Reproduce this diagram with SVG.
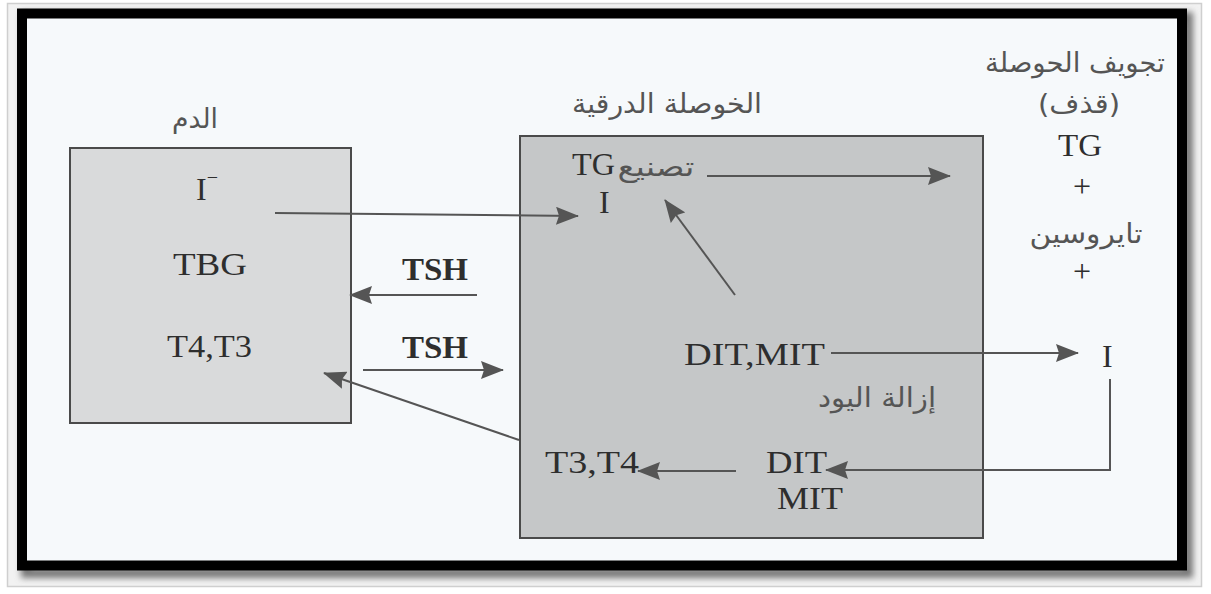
<svg xmlns="http://www.w3.org/2000/svg" width="1211" height="594" viewBox="0 0 1211 594">
  <style>
    .lat { font-family: "Liberation Serif", "Times New Roman", serif; fill: #2e2e2e; font-size: 32px; }
    .bold { font-weight: bold; }
    .ar { font-family: "DejaVu Sans", "Noto Sans", sans-serif; fill: #555; font-size: 27px; text-anchor: middle; direction: rtl; }
    .box { stroke: #4a4a4a; stroke-width: 2; }
    .conn { stroke: #555; stroke-width: 2; fill: none; }
  </style>
  <defs>
    <marker id="head" markerUnits="userSpaceOnUse" markerWidth="24" markerHeight="18" viewBox="0 0 24 18" refX="22" refY="9" orient="auto">
      <path d="M0,0 L23,9 L0,18 L3,9 z" fill="#555"/>
    </marker>
    <filter id="shadow" x="-5%" y="-5%" width="110%" height="115%">
      <feGaussianBlur stdDeviation="3"/>
    </filter>
  </defs>

  <!-- outer mat and frame -->
  <rect x="0" y="0" width="1211" height="594" fill="#ffffff"/>
  <rect x="7.5" y="3.5" width="1194" height="583" fill="#f2f2f2" stroke="#cfcfcf" stroke-width="1.5"/>
  <rect x="26" y="17" width="1162" height="556" fill="none" stroke="#777" stroke-width="10" filter="url(#shadow)"/>
  <rect x="22" y="13.5" width="1160" height="552" fill="#f6f9fb" stroke="#000" stroke-width="10"/>

  <!-- blood compartment -->
  <g id="blood">
    <text class="ar" x="195" y="128" textLength="46" lengthAdjust="spacingAndGlyphs">الدم</text>
    <rect class="box" x="70" y="148" width="281" height="275" fill="#d9dadb"/>
    <text class="lat" x="196" y="200">I<tspan font-size="20" dx="0" dy="-16">−</tspan></text>
    <text class="lat" x="173" y="275" textLength="74" lengthAdjust="spacingAndGlyphs">TBG</text>
    <text class="lat" x="167" y="357" textLength="85" lengthAdjust="spacingAndGlyphs">T4,T3</text>
  </g>

  <!-- thyroid follicle -->
  <g id="follicle">
    <text class="ar" x="667" y="113" textLength="190" lengthAdjust="spacingAndGlyphs">الخوصلة الدرقية</text>
    <rect class="box" x="520" y="136" width="463" height="402" fill="#c5c7c8"/>
    <text class="lat" x="572" y="175" textLength="43" lengthAdjust="spacingAndGlyphs">TG</text>
    <text class="ar" x="656" y="176" textLength="77" lengthAdjust="spacingAndGlyphs">تصنيع</text>
    <text class="lat" x="599" y="213">I</text>
    <text class="lat" x="684" y="365" textLength="141" lengthAdjust="spacingAndGlyphs">DIT,MIT</text>
    <text class="ar" x="877" y="407" textLength="118" lengthAdjust="spacingAndGlyphs">إزالة اليود</text>
    <text class="lat" x="545" y="473" textLength="94" lengthAdjust="spacingAndGlyphs">T3,T4</text>
    <text class="lat" x="766" y="473" textLength="61" lengthAdjust="spacingAndGlyphs">DIT</text>
    <text class="lat" x="777" y="509" textLength="66" lengthAdjust="spacingAndGlyphs">MIT</text>
  </g>

  <!-- follicle lumen -->
  <g id="lumen">
    <text class="ar" x="1075" y="72" textLength="180" lengthAdjust="spacingAndGlyphs">تجويف الحوصلة</text>
    <text class="ar" x="1079" y="113" textLength="82" lengthAdjust="spacingAndGlyphs">(قذف)</text>
    <text class="lat" x="1058" y="156" font-size="27" textLength="44" lengthAdjust="spacingAndGlyphs">TG</text>
    <text class="lat" x="1082" y="197" font-size="20" text-anchor="middle">+</text>
    <text class="ar" x="1086" y="243" textLength="113" lengthAdjust="spacingAndGlyphs">تايروسين</text>
    <text class="lat" x="1082" y="282" font-size="20" text-anchor="middle">+</text>
    <text class="lat" x="1102" y="367">I</text>
  </g>

  <!-- TSH labels -->
  <g id="tsh-labels">
    <text class="lat bold" x="402" y="280" font-size="30" textLength="66" lengthAdjust="spacingAndGlyphs">TSH</text>
    <text class="lat bold" x="402" y="358" font-size="30" textLength="66" lengthAdjust="spacingAndGlyphs">TSH</text>
  </g>

  <!-- connectors -->
  <g id="connectors">
    <line class="conn" x1="275" y1="213" x2="578" y2="216" marker-end="url(#head)"/>
    <line class="conn" x1="477" y1="295" x2="350" y2="295" marker-end="url(#head)"/>
    <line class="conn" x1="363" y1="370" x2="503" y2="370" marker-end="url(#head)"/>
    <line class="conn" x1="519" y1="440" x2="324" y2="373" marker-end="url(#head)"/>
    <line class="conn" x1="707" y1="176" x2="950" y2="176" marker-end="url(#head)"/>
    <line class="conn" x1="735" y1="295" x2="665" y2="200" marker-end="url(#head)"/>
    <line class="conn" x1="831" y1="353" x2="1078" y2="353" marker-end="url(#head)"/>
    <polyline class="conn" points="1110,379 1110,470 826,470" marker-end="url(#head)"/>
    <line class="conn" x1="736" y1="471" x2="638" y2="471" marker-end="url(#head)"/>
  </g>
</svg>
